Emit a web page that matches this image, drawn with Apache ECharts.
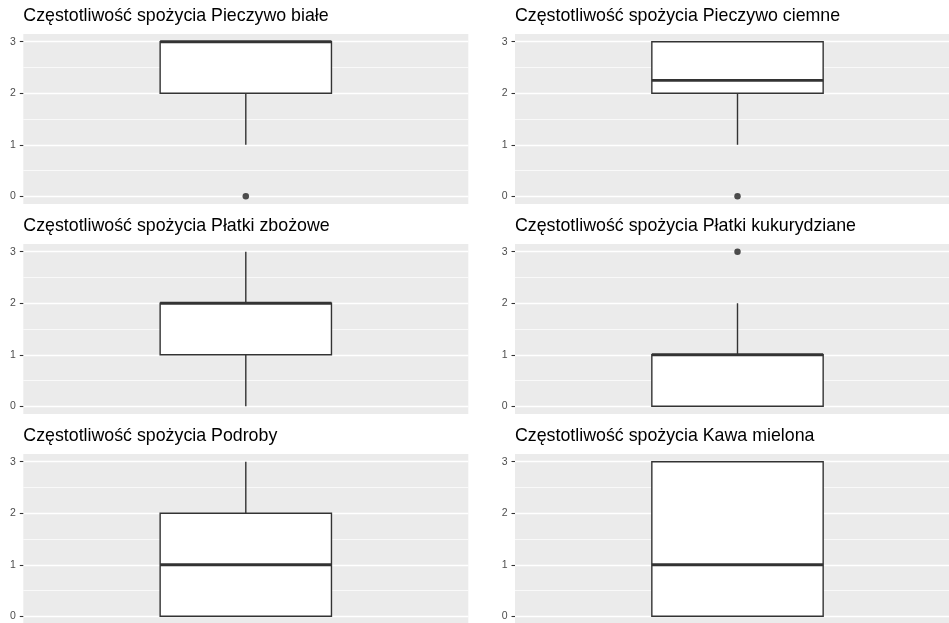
<!DOCTYPE html>
<html>
<head>
<meta charset="utf-8">
<script src="https://cdn.jsdelivr.net/npm/echarts@6/dist/echarts.min.js"></script>
<style>
  html, body { margin: 0; padding: 0; background: #ffffff; }
  #chart { width: 949px; height: 623px; }
</style>
</head>
<body>
<div id="chart"></div>
<script>
// Panel titles (one box plot per food item)
const titles = [
  'Częstotliwość spożycia Pieczywo białe',
  'Częstotliwość spożycia Pieczywo ciemne',
  'Częstotliwość spożycia Płatki zbożowe',
  'Częstotliwość spożycia Płatki kukurydziane',
  'Częstotliwość spożycia Podroby',
  'Częstotliwość spożycia Kawa mielona'
];
// Five-number summaries per panel
const whiskerLow  = [1, 1,    0, 0, 0, 0];
const q1          = [2, 2,    1, 0, 0, 0];
const medians     = [3, 2.25, 2, 1, 1, 1];
const q3          = [3, 3,    2, 1, 2, 3];
const whiskerHigh = [3, 3,    3, 2, 3, 3];
// Outlying observations per panel
const outliers = [[0], [0], [], [3], [], []];
// Y axis scale
const yMin = 0;
const yMax = 3;
const yStep = 1;

// Layout of the 3 x 2 facet grid (pixels)
const colLeft = [23.3, 515];
const rowTop = [34, 244, 454];
const panelW = 445;
const panelH = 170;
const expand = 0.15;              // padding beyond data range, in data units
const padPx = panelH * expand / (yMax - yMin + 2 * expand);
const boxFraction = 0.385;         // box width relative to the band
const ink = '#333333';
const font = 'Liberation Sans, Arial, sans-serif';

const grids = [], xAxes = [], yAxes = [], series = [], titleOpts = [];

titles.forEach((t, i) => {
  const col = i % 2, row = Math.floor(i / 2);
  const left = colLeft[col], top = rowTop[row];

  // grey panel background (full panel incl. expansion)
  grids.push({
    left: left, top: top, width: panelW, height: panelH,
    outerBoundsMode: 'none',
    show: true, backgroundColor: '#EBEBEB', borderWidth: 0
  });
  // data area
  const gi = grids.length;
  grids.push({
    left: left, top: top + padPx, width: panelW, height: panelH - 2 * padPx,
    outerBoundsMode: 'none',
    show: false
  });
  const ai = xAxes.length;
  xAxes.push({
    gridIndex: gi, type: 'category', data: [''], boundaryGap: true,
    axisLine: { show: false }, axisTick: { show: false },
    axisLabel: { show: false }, splitLine: { show: false }
  });
  yAxes.push({
    gridIndex: gi, type: 'value', min: yMin, max: yMax, interval: yStep,
    axisLine: { show: false },
    axisTick: { show: true, length: 3.5, lineStyle: { color: ink, width: 1.1 } },
    axisLabel: { color: '#4D4D4D', fontSize: 10.5, margin: 7.5, fontFamily: font },
    splitLine: { show: true, lineStyle: { color: '#FFFFFF', width: 1.3 } },
    minorTick: { show: false, splitNumber: 2 },
    minorSplitLine: { show: true, lineStyle: { color: '#FFFFFF', width: 0.7 } }
  });

  titleOpts.push({
    text: t, left: left, top: top - 27, padding: 0,
    textStyle: { color: '#000000', fontSize: 17.8, fontWeight: 'normal', fontFamily: font }
  });

  series.push({
    type: 'custom',
    xAxisIndex: ai, yAxisIndex: ai,
    clip: false,
    encode: { x: 0, y: [1, 2, 3, 4, 5] },
    data: [[0, whiskerLow[i], q1[i], medians[i], q3[i], whiskerHigh[i]]],
    renderItem: function (params, api) {
      const band = api.size([1, 0])[0];
      const w = band * boxFraction;
      const pLow = api.coord([0, api.value(1)]);
      const pQ1 = api.coord([0, api.value(2)]);
      const pMed = api.coord([0, api.value(3)]);
      const pQ3 = api.coord([0, api.value(4)]);
      const pHigh = api.coord([0, api.value(5)]);
      const cx = pQ1[0];
      return {
        type: 'group',
        children: [
          { type: 'line', shape: { x1: cx, y1: pLow[1], x2: cx, y2: pQ1[1] },
            style: { stroke: ink, lineWidth: 1.4 } },
          { type: 'line', shape: { x1: cx, y1: pQ3[1], x2: cx, y2: pHigh[1] },
            style: { stroke: ink, lineWidth: 1.4 } },
          { type: 'rect', shape: { x: cx - w / 2, y: pQ3[1], width: w, height: pQ1[1] - pQ3[1] },
            style: { fill: '#FFFFFF', stroke: ink, lineWidth: 1.4 } },
          { type: 'line', shape: { x1: cx - w / 2, y1: pMed[1], x2: cx + w / 2, y2: pMed[1] },
            style: { stroke: ink, lineWidth: 2.8 } }
        ]
      };
    }
  });

  if (outliers[i].length) {
    series.push({
      type: 'scatter',
      xAxisIndex: ai, yAxisIndex: ai,
      clip: false,
      symbol: 'circle', symbolSize: 6.5,
      itemStyle: { color: '#222222' },
      data: outliers[i].map(v => [0, v]),
      z: 5
    });
  }
});

const chart = echarts.init(document.getElementById('chart'), null, { renderer: 'canvas' });
chart.setOption({
  backgroundColor: '#FFFFFF',
  animation: false,
  title: titleOpts,
  grid: grids,
  xAxis: xAxes,
  yAxis: yAxes,
  series: series
});
</script>
</body>
</html>
